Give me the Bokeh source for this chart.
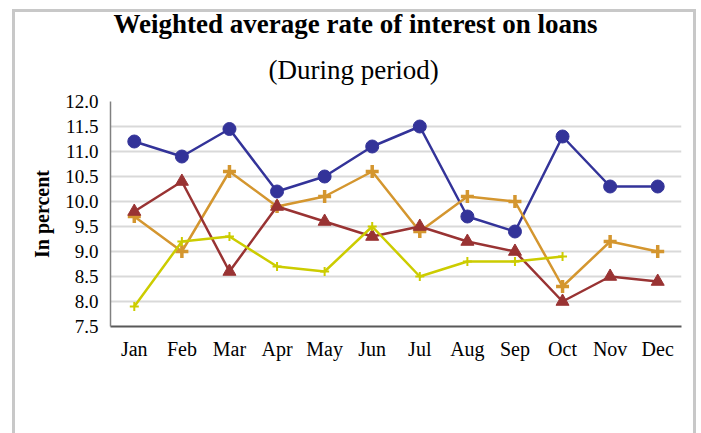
from bokeh.plotting import figure
from bokeh.models import (FactorRange, Range1d, FixedTicker, PrintfTickFormatter,
                          Title, Legend, LegendItem)
from bokeh.embed import file_html
from bokeh.resources import INLINE

months = ["Jan", "Feb", "Mar", "Apr", "May", "Jun", "Jul", "Aug", "Sep", "Oct", "Nov", "Dec"]
rate_2010 = [11.2, 10.9, 11.45, 10.2, 10.5, 11.1, 11.5, 9.7, 9.4, 11.3, 10.3, 10.3]
rate_2011 = [9.7, 9.0, 10.6, 9.9, 10.1, 10.6, 9.4, 10.1, 10.0, 8.3, 9.2, 9.0]
rate_2012 = [9.8, 10.4, 8.6, 9.9, 9.6, 9.3, 9.5, 9.2, 9.0, 8.0, 8.5, 8.4]
months_2013 = ["Jan", "Feb", "Mar", "Apr", "May", "Jun", "Jul", "Aug", "Sep", "Oct"]
rate_2013 = [7.9, 9.2, 9.3, 8.7, 8.6, 9.5, 8.5, 8.8, 8.8, 8.9]
y_ticks = [7.5, 8.0, 8.5, 9.0, 9.5, 10.0, 10.5, 11.0, 11.5, 12.0]

title_text = "Weighted average rate of interest on loans"
subtitle_text = "(During period)"
ylabel = "In percent"

FONT = "Liberation Serif"
GRAY = "#c8c8c8"

p = figure(frame_width=571, frame_height=225, x_range=FactorRange(*months, range_padding=0),
           y_range=Range1d(7.5, 12.0), output_backend="svg", toolbar_location=None,
           min_border_left=110, min_border_right=15, min_border_top=101, min_border_bottom=0)
p.outline_line_color = None
p.background_fill_color = "white"
p.border_fill_color = None
p.styles = {"background": (f"linear-gradient({GRAY},{GRAY}) 12px 9px / 3px 1000px no-repeat, "
                           f"linear-gradient({GRAY},{GRAY}) 12px 9px / 684px 3px no-repeat, "
                           f"linear-gradient({GRAY},{GRAY}) 693px 9px / 3px 1000px no-repeat, white")}

p.xgrid.grid_line_color = None
p.ygrid.grid_line_color = "#d9d9d9"
p.ygrid.grid_line_width = 2

p.yaxis.ticker = FixedTicker(ticks=y_ticks)
p.yaxis.formatter = PrintfTickFormatter(format="%.1f")
for ax in (p.xaxis[0], p.yaxis[0]):
    ax.major_tick_in = 0
    ax.major_tick_out = 0
    ax.minor_tick_in = 0
    ax.minor_tick_out = 0
    ax.major_label_text_font = FONT
    ax.major_label_text_color = "black"
p.yaxis.major_label_text_font_size = "19px"
p.xaxis.major_label_text_font_size = "20px"
p.yaxis.major_label_standoff = 12
p.xaxis.major_label_standoff = 11
p.yaxis.axis_line_color = "#808080"
p.yaxis.axis_line_width = 1.5
p.xaxis.axis_line_color = "#595959"
p.xaxis.axis_line_width = 2
p.yaxis.axis_label = ylabel
p.yaxis.axis_label_text_font = FONT
p.yaxis.axis_label_text_font_style = "bold"
p.yaxis.axis_label_text_font_size = "20px"
p.yaxis.axis_label_text_color = "black"
p.yaxis.axis_label_standoff = 9

series = [
    (months, rate_2010, "#333399", "circle", 13, 1, "2010"),
    (months, rate_2011, "#D4962F", "cross", 13, 3.5, "2011"),
    (months, rate_2012, "#993333", "triangle", 13, 1, "2012"),
    (months_2013, rate_2013, "#CCCC00", "cross", 9, 2, "2013"),
]
items = []
for xs, ys, color, marker, size, mlw, name in series:
    r1 = p.line(xs, ys, line_color=color, line_width=2.5)
    r2 = p.scatter(xs, ys, marker=marker, size=size, fill_color=color,
                   line_color=color, line_width=mlw)
    items.append(LegendItem(label=name, renderers=[r1, r2]))

legend = Legend(items=items, orientation="horizontal", location=(106, 42),
                label_text_font=FONT, label_text_font_size="20px", label_text_color="black",
                glyph_width=26, glyph_height=26, label_standoff=4, spacing=8,
                padding=18, margin=0, border_line_color="#bfbfbf", border_line_width=1.5,
                background_fill_color="white", background_fill_alpha=1)
p.add_layout(legend, "below")

p.title.visible = False
p.add_layout(Title(text=subtitle_text, text_font=FONT, text_font_size="27px",
                   text_font_style="normal", text_color="black", align="left",
                   offset=158, standoff=34), "above")
p.add_layout(Title(text=title_text, text_font=FONT, text_font_size="27px",
                   text_font_style="bold", text_color="black", align="left",
                   offset=3, standoff=-6), "above")

open("out.html", "w").write(file_html(p, INLINE))
